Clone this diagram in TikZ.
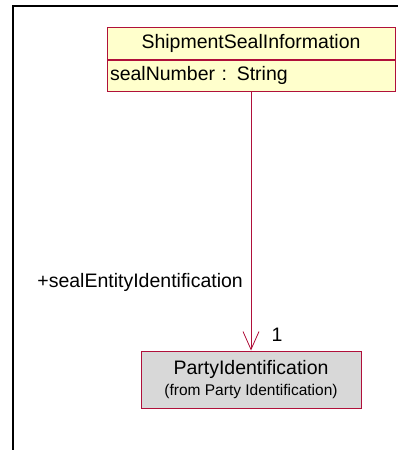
\documentclass[tikz,border=0pt]{standalone}
\usepackage{fontspec}
\setmainfont{Liberation Sans}
\usetikzlibrary{arrows.meta,positioning}
\definecolor{umlborder}{HTML}{B0103A}
\definecolor{umlyellow}{HTML}{FFFFCC}
\definecolor{umlgray}{HTML}{D8D8D8}

\begin{document}
\begin{tikzpicture}[x=1pt,y=-1pt,font=\fontsize{19.5}{22}\selectfont,
 cls/.style={draw=umlborder,fill=umlyellow,line width=1pt,minimum width=288pt,inner sep=3pt},
 ref/.style={draw=umlborder,fill=umlgray,line width=1pt,minimum width=220pt,minimum height=57pt,align=center,inner sep=2pt},
 assoc/.style={draw=umlborder,line width=0.8pt,-{Straight Barb[length=18pt,width=16pt,line width=0.8pt]}}]
\useasboundingbox (0,0) rectangle (398,450);
% frame
\draw[line width=2pt] (13,450) -- (13,6) -- (400,6);
% classes
\node[cls,minimum height=32pt] (ssi) at (251,43) {ShipmentSealInformation};
\node[cls,minimum height=31pt,below=0pt of ssi,text width=282pt,align=left] (ssiattr) {sealNumber : String};
\node[ref] (party) at (251,379.5) {PartyIdentification\\[-1pt]{\fontsize{15.5}{18}\selectfont (from Party Identification)}};
% association
\draw[assoc] (ssiattr.south) -- (party.north);
\node[anchor=east,inner sep=0pt] (role) at (243,282) {+sealEntityIdentification};
\node (mult) at (277,335) {1};
\end{tikzpicture}
\end{document}
